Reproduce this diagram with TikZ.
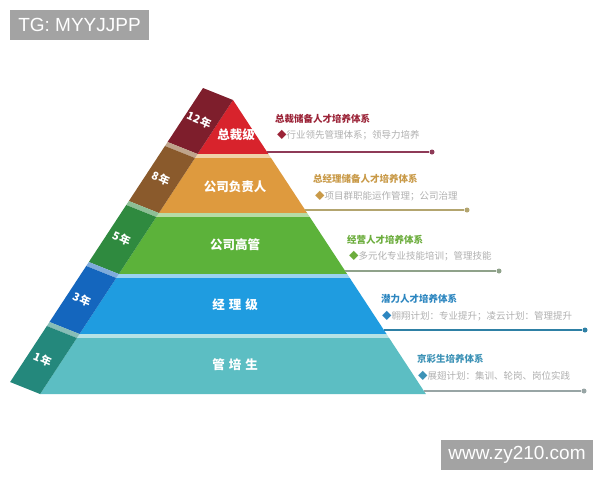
\documentclass[tikz,border=0pt]{standalone}
\usepackage{fontspec}
\setmainfont{Liberation Sans}
\newfontfamily\cjk{Noto Sans CJK SC}
\definecolor{redF}{HTML}{D8232C}
\definecolor{redS}{HTML}{7E1E2C}
\definecolor{oraF}{HTML}{DE9A3E}
\definecolor{oraS}{HTML}{8A5A2C}
\definecolor{grnF}{HTML}{5CB23A}
\definecolor{grnS}{HTML}{2F8A3F}
\definecolor{bluF}{HTML}{1F9CE0}
\definecolor{bluS}{HTML}{1466BE}
\definecolor{tealF}{HTML}{5CBEC3}
\definecolor{tealS}{HTML}{24887C}
\definecolor{h1c}{HTML}{9B2337}
\definecolor{h2c}{HTML}{C99A48}
\definecolor{h3c}{HTML}{6CAD3D}
\definecolor{h4c}{HTML}{2C86C0}
\definecolor{h5c}{HTML}{3C92B6}
\definecolor{l1c}{HTML}{8E3A57}
\definecolor{l2c}{HTML}{B3A56F}
\definecolor{l3c}{HTML}{8FA28A}
\definecolor{l4c}{HTML}{2E80A5}
\definecolor{l5c}{HTML}{98A5A5}
\definecolor{descc}{HTML}{B0B0B0}
\definecolor{wmgray}{HTML}{A3A3A3}
\newcommand\mytier[9]{%
 \pgfmathsetmacro\xlt{233-0.656*(#1-100)}%
 \pgfmathsetmacro\xrt{233+0.656*(#1-100)}%
 \pgfmathsetmacro\xlb{233-0.656*(#2-100)}%
 \pgfmathsetmacro\xrb{233+0.656*(#2-100)}%
 \pgfmathsetmacro\xls{233-0.656*(#1-104)}%
 \pgfmathsetmacro\xrs{233+0.656*(#1-104)}%
 \ifnum#1>100
 \fill[#3!45!white] (\xls,#1-4) -- (\xrs,#1-4) -- (\xrt,#1) -- (\xlt,#1) -- cycle;
 \fill[#4!55!white] (\xls-30,#1-16) -- (\xls,#1-4) -- (\xlt,#1) -- (\xlt-30,#1-12) -- cycle;
 \fi
 \fill[#3] (\xlt,#1) -- (\xrt,#1) -- (\xrb,#2) -- (\xlb,#2) -- cycle;
 \fill[#4] (\xlt-30,#1-12) -- (\xlt,#1) -- (\xlb,#2) -- (\xlb-30,#2-12) -- cycle;
 \node[tierlbl] (t#9) at (#8,#5) {#6};
 \node[yearlbl] (y#9) at ({(\xlt+\xlb)/2-16},{(#1+#2)/2-7}) {#7};
}
\begin{document}
\begin{tikzpicture}[x=1pt,y=-1pt,
  tierlbl/.style={text=white,font=\cjk\bfseries\fontsize{12.5}{14}\selectfont,inner sep=0pt},
  yearlbl/.style={text=white,font=\cjk\bfseries\fontsize{11}{13}\selectfont,inner sep=0pt,rotate=-24},
  ttl/.style={anchor=west,inner sep=0pt,font=\cjk\bfseries\fontsize{9.5}{11}\selectfont},
  dsc/.style={anchor=west,inner sep=0pt,text=descc,font=\cjk\fontsize{9.5}{11}\selectfont},
  dotm/.style={circle,inner sep=0pt,minimum size=5pt},
  wm/.style={fill=wmgray,text=white,inner sep=0pt,font=\fontsize{19}{21}\selectfont}]
\useasboundingbox (0,0) rectangle (600,480);
\fill[white] (0,0) rectangle (600,480);
% watermarks
\node[wm,minimum width=139pt,minimum height=30pt] (wmtop) at (79.5,25) {TG: MYYJJPP};
\node[wm,minimum width=152pt,minimum height=30pt] (wmbot) at (517,455) {www.zy210.com};
% tiers
\mytier{100}{154}{redF}{redS}{135}{总裁级}{12\hspace{1pt}年}{236}{1}
\mytier{158}{213}{oraF}{oraS}{187}{公司负责人}{8\hspace{1pt}年}{235}{2}
\mytier{217}{274}{grnF}{grnS}{245}{公司高管}{5\hspace{1pt}年}{235}{3}
\mytier{278}{334}{bluF}{bluS}{305}{经\hspace{4pt}理\hspace{4pt}级}{3\hspace{1pt}年}{235}{4}
\mytier{338}{394}{tealF}{tealS}{365}{管\hspace{4pt}培\hspace{4pt}生}{1\hspace{1pt}年}{235}{5}
% connectors
\coordinate (s1) at ({233+0.656*(152-100)},152);
\node[dotm,fill=l1c] (p1) at (432,152) {};
\draw[l1c,line width=1.1pt] (s1) -- (p1);
\coordinate (s2) at ({233+0.656*(210-100)},210);
\node[dotm,fill=l2c] (p2) at (467,210) {};
\draw[l2c,line width=1.1pt] (s2) -- (p2);
\coordinate (s3) at ({233+0.656*(271-100)},271);
\node[dotm,fill=l3c] (p3) at (499,271) {};
\draw[l3c,line width=1.1pt] (s3) -- (p3);
\coordinate (s4) at ({233+0.656*(330-100)},330);
\node[dotm,fill=l4c] (p4) at (585,330) {};
\draw[l4c,line width=1.1pt] (s4) -- (p4);
\coordinate (s5) at ({233+0.656*(391-100)},391);
\node[dotm,fill=l5c] (p5) at (584,391) {};
\draw[l5c,line width=1.1pt] (s5) -- (p5);
% texts
\node[ttl,text=h1c] (h1) at (275,119) {总裁储备人才培养体系};
\node[dsc] (d1) at (277,135) {\textcolor{h1c}{◆}行业领先管理体系；领导力培养};
\node[ttl,text=h2c] (h2) at (313,179) {总经理储备人才培养体系};
\node[dsc] (d2) at (315,196) {\textcolor{h2c}{◆}项目群职能运作管理；公司治理};
\node[ttl,text=h3c] (h3) at (347,240) {经营人才培养体系};
\node[dsc] (d3) at (349,256) {\textcolor{h3c}{◆}多元化专业技能培训；管理技能};
\node[ttl,text=h4c] (h4) at (381,299) {潜力人才培养体系};
\node[dsc] (d4) at (382,316) {\textcolor{h4c}{◆}翱翔计划：专业提升；凌云计划：管理提升};
\node[ttl,text=h5c] (h5) at (417,359) {京彩生培养体系};
\node[dsc] (d5) at (418,376) {\textcolor{h5c}{◆}展翅计划：集训、轮岗、岗位实践};
\end{tikzpicture}
\end{document}
